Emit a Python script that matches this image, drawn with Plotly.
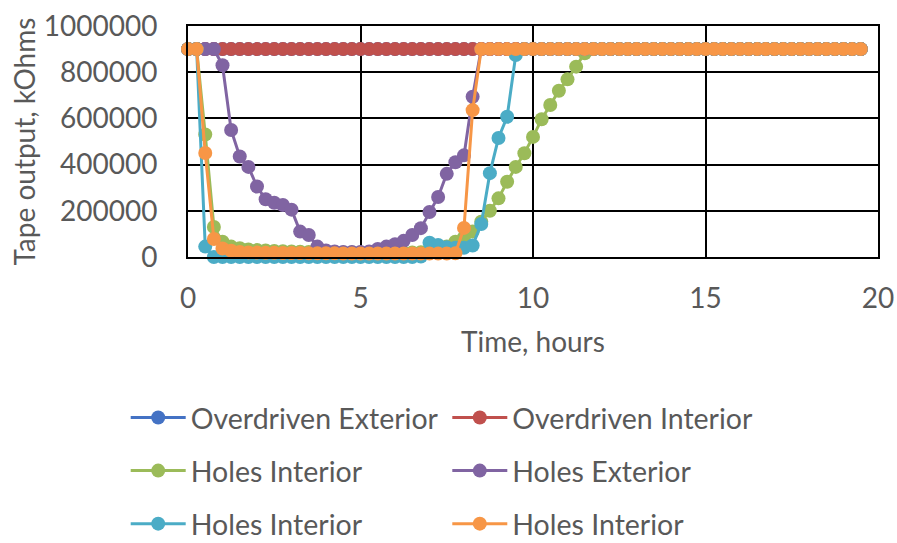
import plotly.graph_objects as go

time_h = [0, 0.25, 0.5, 0.75, 1, 1.25, 1.5, 1.75, 2, 2.25, 2.5, 2.75, 3, 3.25, 3.5, 3.75,
          4, 4.25, 4.5, 4.75, 5, 5.25, 5.5, 5.75, 6, 6.25, 6.5, 6.75, 7, 7.25, 7.5, 7.75,
          8, 8.25, 8.5, 8.75, 9, 9.25, 9.5, 9.75, 10, 10.25, 10.5, 10.75, 11, 11.25, 11.5, 11.75,
          12, 12.25, 12.5, 12.75, 13, 13.25, 13.5, 13.75, 14, 14.25, 14.5, 14.75, 15, 15.25, 15.5, 15.75,
          16, 16.25, 16.5, 16.75, 17, 17.25, 17.5, 17.75, 18, 18.25, 18.5, 18.75, 19, 19.25, 19.5]

overdriven_exterior = [900000] * len(time_h)
overdriven_interior = [900000] * len(time_h)

holes_interior_1 = [900000, 900000, 530000, 130000, 66000, 45000, 38000, 33000, 30000, 28000, 26000, 25000,
                    24000, 23000, 22000, 22000, 21000, 21000, 20000, 20000, 20000, 20000, 20000, 20000,
                    20000, 20000, 20000, 21000, 25000, 30000, 45000, 66000, 85000, 110000, 153000, 200000,
                    254000, 326000, 390000, 449000, 520000, 596000, 658000, 720000, 769000, 824000, 882000, 900000,
                    900000, 900000, 900000, 900000, 900000, 900000, 900000, 900000, 900000, 900000, 900000, 900000,
                    900000, 900000, 900000, 900000, 900000, 900000, 900000, 900000, 900000, 900000, 900000, 900000,
                    900000, 900000, 900000, 900000, 900000, 900000, 900000]

holes_exterior = [900000, 900000, 900000, 900000, 830000, 550000, 435000, 390000, 305000, 250000, 235000, 225000,
                  205000, 110000, 95000, 45000, 28000, 24000, 22000, 22000, 22000, 24000, 35000, 45000,
                  55000, 70000, 95000, 125000, 195000, 260000, 360000, 410000, 440000, 694000, 900000, 900000,
                  900000, 900000, 900000, 900000, 900000, 900000, 900000, 900000, 900000, 900000, 900000, 900000,
                  900000, 900000, 900000, 900000, 900000, 900000, 900000, 900000, 900000, 900000, 900000, 900000,
                  900000, 900000, 900000, 900000, 900000, 900000, 900000, 900000, 900000, 900000, 900000, 900000,
                  900000, 900000, 900000, 900000, 900000, 900000, 900000]

holes_interior_2 = [900000, 900000, 45000, 0, 0, 0, 0, 0, 0, 0, 0, 0,
                    0, 0, 0, 0, 0, 0, 0, 0, 0, 0, 0, 0,
                    0, 0, 0, 2000, 62000, 52000, 42000, 40000, 40000, 50000, 143000, 363000,
                    515000, 607000, 874000, 900000, 900000, 900000, 900000, 900000, 900000, 900000, 900000, 900000,
                    900000, 900000, 900000, 900000, 900000, 900000, 900000, 900000, 900000, 900000, 900000, 900000,
                    900000, 900000, 900000, 900000, 900000, 900000, 900000, 900000, 900000, 900000, 900000, 900000,
                    900000, 900000, 900000, 900000, 900000, 900000, 900000]

holes_interior_3 = [900000, 900000, 450000, 78000, 37000, 27000, 22000, 20000, 19000, 18000, 18000, 17000,
                    17000, 17000, 16000, 16000, 16000, 16000, 15000, 15000, 15000, 15000, 15000, 15000,
                    15000, 15000, 15000, 15000, 15000, 15000, 15000, 16000, 126000, 636000, 900000, 900000,
                    900000, 900000, 900000, 900000, 900000, 900000, 900000, 900000, 900000, 900000, 900000, 900000,
                    900000, 900000, 900000, 900000, 900000, 900000, 900000, 900000, 900000, 900000, 900000, 900000,
                    900000, 900000, 900000, 900000, 900000, 900000, 900000, 900000, 900000, 900000, 900000, 900000,
                    900000, 900000, 900000, 900000, 900000, 900000, 900000]

series = [
    ("Overdriven Exterior", overdriven_exterior, "#4472C4", "legend"),
    ("Overdriven Interior", overdriven_interior, "#C0504D", "legend2"),
    ("Holes Interior", holes_interior_1, "#9BBB59", "legend"),
    ("Holes Exterior", holes_exterior, "#8064A2", "legend2"),
    ("Holes Interior", holes_interior_2, "#4BACC6", "legend"),
    ("Holes Interior", holes_interior_3, "#F79646", "legend2"),
]

FONT = "Lato"
FS = 28
LFS = 28.5
TXT = "#595959"

W, H = 897, 543
L, R, T, B = 188, 19, 26, 286
PW = W - L - R
PH = H - T - B

fig = go.Figure()
for i, (name, vals, color, leg) in enumerate(series):
    fig.add_trace(go.Scatter(
        x=time_h, y=vals, name=name, mode="lines+markers",
        line=dict(color=color, width=3),
        marker=dict(color=color, size=14),
        cliponaxis=False, legend=leg, legendgroup="g%d" % i,
    ))

legend_common = dict(
    orientation="v", yanchor="top", xanchor="left",
    xref="container", yref="container",
    font=dict(family=FONT, size=LFS, color=TXT),
    bgcolor="rgba(0,0,0,0)", tracegroupgap=13, itemwidth=55,
)

fig.update_layout(
    width=W, height=H,
    margin=dict(l=L, r=R, t=T, b=B, autoexpand=False),
    paper_bgcolor="white", plot_bgcolor="white",
    font=dict(family=FONT, size=FS, color=TXT),
    showlegend=True,
    legend=dict(x=125.7 / W, y=1 - 392.5 / H, **legend_common),
    legend2=dict(x=447.3 / W, y=1 - 392.5 / H, **legend_common),
    xaxis=dict(
        range=[0, 20], dtick=5, tick0=0,
        showgrid=True, gridcolor="black", gridwidth=2,
        showline=True, linecolor="black", linewidth=2, mirror=True,
        zeroline=False, ticks="", ticklabelstandoff=15, ticklabeloverflow="allow",
        tickfont=dict(family=FONT, size=FS, color=TXT),
    ),
    yaxis=dict(
        range=[0, 1000000], dtick=200000, tick0=0, tickformat="d",
        showgrid=True, gridcolor="black", gridwidth=2,
        showline=True, linecolor="black", linewidth=2, mirror=True,
        zeroline=False, ticks="", ticklabelstandoff=23, ticklabeloverflow="allow",
        tickfont=dict(family=FONT, size=FS, color=TXT),
    ),
    annotations=[
        dict(text="Time, hours", xref="paper", yref="paper",
             x=(533 - L) / PW, y=-(341 - (T + PH)) / PH,
             xanchor="center", yanchor="middle", showarrow=False,
             font=dict(family=FONT, size=FS, color=TXT)),
        dict(text="Tape output, kOhms", xref="paper", yref="paper",
             x=(23 - L) / PW, y=0.5, textangle=-90,
             xanchor="center", yanchor="middle", showarrow=False,
             font=dict(family=FONT, size=FS, color=TXT)),
    ],
)

fig.write_html("out.html", config={"displayModeBar": False},
               post_script="document.body.style.margin='0';document.body.style.overflow='hidden';")
